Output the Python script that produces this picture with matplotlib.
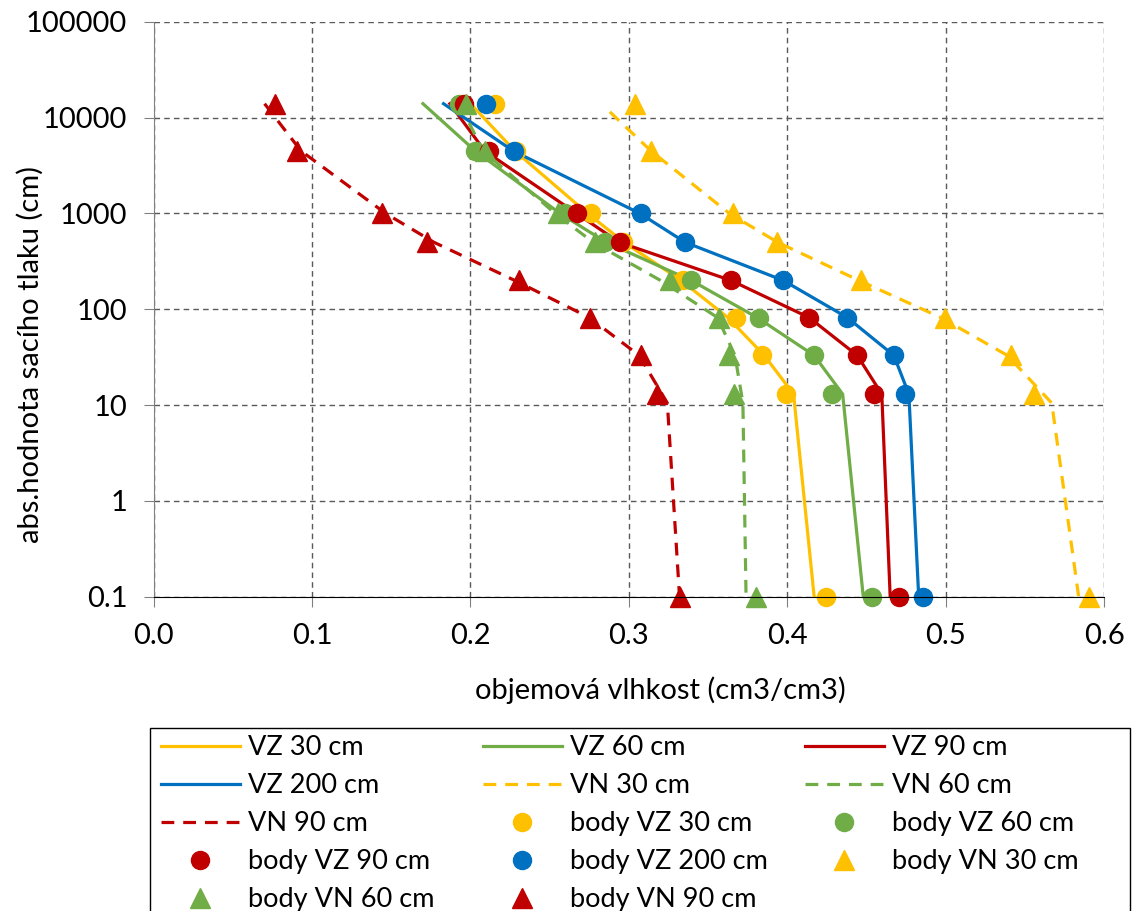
import matplotlib
matplotlib.use("Agg")
import matplotlib.pyplot as plt
from matplotlib.patches import Rectangle
from matplotlib.ticker import NullLocator

plt.rcParams["font.family"] = ["Lato", "DejaVu Sans"]

# pressure levels (cm)
h_pts = [14000, 4500, 1000, 500, 200, 82, 33, 13, 0.1]
h_vz = [14000, 4500, 1000, 500, 200, 82, 33, 13, 0.1]
h_vn = [14000, 4500, 1000, 500, 200, 82, 33, 10.5, 0.1]
h_vn30 = [11500, 4500, 1000, 500, 200, 82, 33, 10.5, 0.1]

# model curves (objemova vlhkost)
vz30 = [0.200, 0.228, 0.274, 0.297, 0.333, 0.3625, 0.3855, 0.404, 0.417]
vz60 = [0.170, 0.203, 0.2566, 0.2857, 0.3394, 0.381, 0.417, 0.435, 0.448]
vz90 = [0.187, 0.209, 0.267, 0.294, 0.3645, 0.4138, 0.4442, 0.4597, 0.465]
vz200 = [0.183, 0.227, 0.307, 0.3356, 0.3975, 0.4379, 0.4673, 0.4768, 0.483]
vn30 = [0.288, 0.314, 0.3635, 0.394, 0.4453, 0.497, 0.539, 0.567, 0.584]
vn60 = [0.193, 0.208, 0.2535, 0.2775, 0.320, 0.356, 0.367, 0.372, 0.374]
vn90 = [0.070, 0.093, 0.1465, 0.177, 0.228, 0.275, 0.3065, 0.3243, 0.332]

# measured points
body_vz30 = [0.2153, 0.229, 0.2761, 0.2964, 0.3342, 0.3677, 0.3838, 0.3991, 0.4243]
body_vz60 = [0.1926, 0.2027, 0.2597, 0.285, 0.3394, 0.3824, 0.417, 0.428, 0.4536]
body_vz90 = [0.196, 0.212, 0.2675, 0.2943, 0.3645, 0.4138, 0.4442, 0.4547, 0.4704]
body_vz200 = [0.210, 0.2272, 0.3075, 0.3356, 0.3975, 0.4379, 0.4673, 0.4746, 0.4857]
body_vn30 = [0.3037, 0.3142, 0.3656, 0.3935, 0.4467, 0.4998, 0.5411, 0.5557, 0.5905]
body_vn60 = [0.197, 0.209, 0.2555, 0.2786, 0.3258, 0.3572, 0.3635, 0.3667, 0.3803]
body_vn90 = [0.0764, 0.0903, 0.1444, 0.1727, 0.2304, 0.2755, 0.3075, 0.318, 0.3321]

yellow = "#FFC000"
green = "#70AD47"
red = "#C00000"
blue = "#0070C0"

fig = plt.figure(figsize=(11.37, 9.11), dpi=100)
ax = fig.add_axes([0.13518, 0.34501, 0.83580, 0.63096])

lw = 2.3
dash = (0, (4.0, 2.8))
ax.plot(vz30, h_vz, color=yellow, lw=lw, label="VZ 30 cm")
ax.plot(vz60, h_vz, color=green, lw=lw, label="VZ 60 cm")
ax.plot(vz90, h_vz, color=red, lw=lw, label="VZ 90 cm")
ax.plot(vz200, h_vz, color=blue, lw=lw, label="VZ 200 cm")
ax.plot(vn30, h_vn30, color=yellow, lw=lw, ls=dash, label="VN 30 cm")
ax.plot(vn60, h_vn, color=green, lw=lw, ls=dash, label="VN 60 cm")
ax.plot(vn90, h_vn, color=red, lw=lw, ls=dash, label="VN 90 cm")

ms = 13
ax.plot(body_vz30, h_pts, "o", color=yellow, ms=ms, clip_on=False, label="body VZ 30 cm")
ax.plot(body_vz60, h_pts, "o", color=green, ms=ms, clip_on=False, label="body VZ 60 cm")
ax.plot(body_vz90, h_pts, "o", color=red, ms=ms, clip_on=False, label="body VZ 90 cm")
ax.plot(body_vz200, h_pts, "o", color=blue, ms=ms, clip_on=False, label="body VZ 200 cm")
ax.plot(body_vn30, h_pts, "^", color=yellow, ms=ms + 1, clip_on=False, label="body VN 30 cm")
ax.plot(body_vn60, h_pts, "^", color=green, ms=ms + 1, clip_on=False, label="body VN 60 cm")
ax.plot(body_vn90, h_pts, "^", color=red, ms=ms + 1, clip_on=False, label="body VN 90 cm")

ax.set_yscale("log")
ax.set_ylim(0.1, 100000)
ax.set_xlim(0, 0.6)
yt = [0.1, 1, 10, 100, 1000, 10000, 100000]
ax.set_yticks(yt)
ax.set_yticklabels(["0.1", "1", "10", "100", "1000", "10000", "100000"])
ax.yaxis.set_minor_locator(NullLocator())
xt = [0.0, 0.1, 0.2, 0.3, 0.4, 0.5, 0.6]
ax.set_xticks(xt)
ax.set_xticklabels([f"{v:.1f}" for v in xt])

ax.grid(True, color="#595959", lw=1.0, ls=(0, (4, 3)))
for s in ["top", "right"]:
    ax.spines[s].set_visible(False)
ax.spines["left"].set_color("#808080")
ax.spines["bottom"].set_color("#000000")
ax.tick_params(direction="out", length=7, color="#808080", labelsize=21, pad=12)

ax.set_xlabel("objemová vlhkost (cm3/cm3)", fontsize=21)
ax.xaxis.set_label_coords(0.5328, -0.1623)
ax.xaxis.label.set_va("center")
ax.set_ylabel("abs.hodnota sacího tlaku (cm)", fontsize=21)
ax.yaxis.set_label_coords(-0.1302, 0.422)
ax.yaxis.label.set_va("center")

# legend: one legend per column so the columns sit where Excel put them
h, l = ax.get_legend_handles_labels()
columns = [[0, 3, 6, 9, 12], [1, 4, 7, 10, 13], [2, 5, 8, 11]]
col_x = [161, 483, 805]
for idx, x0 in zip(columns, col_x):
    fig.legend([h[i] for i in idx], [l[i] for i in idx], ncol=1,
               loc="upper left", bbox_to_anchor=(x0 / 1137, 1 - 735 / 911),
               frameon=False, fontsize=19.5, borderpad=0, borderaxespad=0,
               handlelength=2.9, handletextpad=0.3, labelspacing=0.48)
fig.patches.append(Rectangle((150 / 1137, -0.05), 980 / 1137, 1 - 728 / 911 + 0.05,
                             transform=fig.transFigure, fill=False,
                             edgecolor="black", lw=1.0))

fig.savefig("out.png", dpi=100)
